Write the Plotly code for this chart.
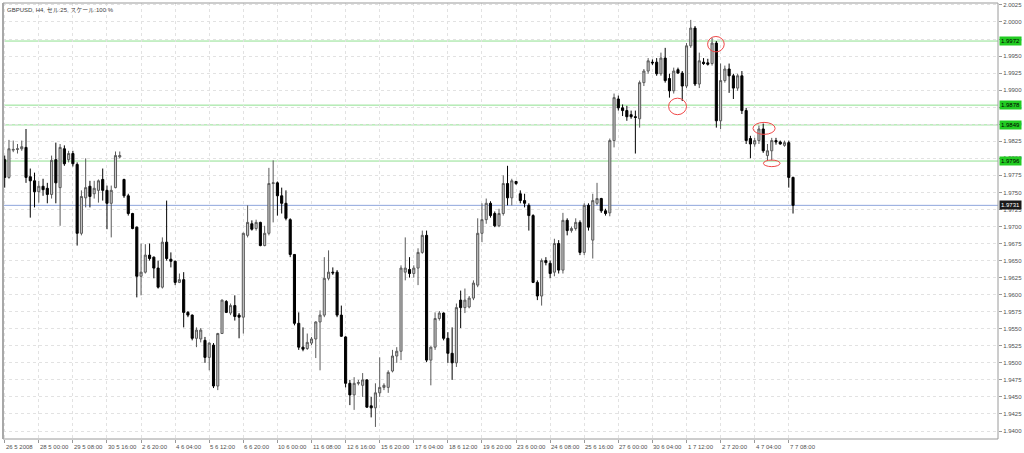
import plotly.graph_objects as go

# ---------------- data (GBPUSD H4) ----------------
opens = [
1.9798,1.9772,1.9812,1.9813,1.9814,1.9816,1.9773,1.9767,1.9751,1.9759,
1.9756,1.9747,1.9798,1.9757,1.9814,1.9798,1.9807,1.9791,1.9690,1.9742,
1.9759,1.9748,1.9753,1.9769,1.9753,1.9734,1.9757,1.9802,1.9769,1.9745,
1.9719,1.9699,1.9627,1.9633,1.9658,1.9655,1.9639,1.9611,1.9677,1.9652,
1.9649,1.9618,1.9622,1.9574,1.9570,1.9536,1.9535,1.9533,1.9508,1.9526,
1.9466,1.9543,1.9590,1.9573,1.9584,1.9570,1.9567,1.9687,1.9704,1.9697,
1.9706,1.9672,1.9690,1.9763,1.9764,1.9745,1.9734,1.9710,1.9659,1.9558,
1.9523,1.9521,1.9529,1.9535,1.9560,1.9570,1.9624,1.9633,1.9633,1.9570,
1.9538,1.9470,1.9453,1.9470,1.9467,1.9475,1.9437,1.9434,1.9456,1.9464,
1.9464,1.9488,1.9510,1.9517,1.9633,1.9637,1.9631,1.9639,1.9662,1.9687,
1.9504,1.9523,1.9565,1.9573,1.9536,1.9514,1.9500,1.9592,1.9581,1.9582,
1.9595,1.9614,1.9690,1.9710,1.9734,1.9719,1.9701,1.9719,1.9763,1.9742,
1.9766,1.9748,1.9738,1.9731,1.9716,1.9618,1.9598,1.9650,1.9646,1.9633,
1.9675,1.9636,1.9709,1.9694,1.9697,1.9706,1.9662,1.9731,1.9680,1.9734,
1.9741,1.9723,1.9720,1.9826,1.9887,1.9874,1.9870,1.9864,1.9861,1.9858,
1.9911,1.9928,1.9941,1.9941,1.9924,1.9947,1.9917,1.9899,1.9930,1.9925,
1.9906,1.9965,1.9991,1.9909,1.9941,1.9940,1.9939,1.9969,1.9855,1.9914,
1.9931,1.9921,1.9903,1.9921,1.9870,1.9829,1.9821,1.9826,1.9843,1.9804,
1.9811,1.9826,1.9824,1.9819,1.9823,1.9772]

closes = [
1.9772,1.9814,1.9813,1.9814,1.9817,1.9772,1.9767,1.9751,1.9759,1.9754,
1.9747,1.9797,1.9764,1.9816,1.9792,1.9807,1.9792,1.9690,1.9744,1.9757,
1.9744,1.9756,1.9767,1.9753,1.9734,1.9753,1.9804,1.9804,1.9745,1.9719,
1.9697,1.9627,1.9633,1.9658,1.9653,1.9639,1.9611,1.9677,1.9653,1.9649,
1.9618,1.9622,1.9574,1.9570,1.9536,1.9548,1.9548,1.9508,1.9529,1.9466,
1.9543,1.9592,1.9574,1.9584,1.9568,1.9567,1.9690,1.9706,1.9696,1.9706,
1.9672,1.9690,1.9763,1.9764,1.9745,1.9734,1.9712,1.9659,1.9558,1.9523,
1.9520,1.9530,1.9535,1.9560,1.9570,1.9624,1.9633,1.9632,1.9570,1.9539,
1.9470,1.9453,1.9470,1.9471,1.9475,1.9435,1.9434,1.9456,1.9464,1.9467,
1.9486,1.9510,1.9517,1.9639,1.9639,1.9631,1.9639,1.9662,1.9687,1.9504,
1.9523,1.9565,1.9573,1.9536,1.9514,1.9500,1.9581,1.9581,1.9592,1.9595,
1.9617,1.9690,1.9710,1.9734,1.9716,1.9701,1.9719,1.9763,1.9742,1.9767,
1.9763,1.9738,1.9734,1.9716,1.9618,1.9598,1.9650,1.9647,1.9631,1.9675,
1.9636,1.9709,1.9694,1.9697,1.9706,1.9662,1.9731,1.9699,1.9738,1.9741,
1.9723,1.9719,1.9826,1.9889,1.9874,1.9870,1.9861,1.9861,1.9860,1.9911,
1.9928,1.9943,1.9940,1.9924,1.9947,1.9914,1.9899,1.9928,1.9925,1.9906,
1.9965,1.9991,1.9909,1.9943,1.9939,1.9938,1.9969,1.9855,1.9914,1.9931,
1.9921,1.9903,1.9921,1.9870,1.9826,1.9821,1.9826,1.9843,1.9811,1.9811,
1.9826,1.9824,1.9821,1.9823,1.9772,1.9731]

highs = [
1.9804,1.9827,1.9826,1.9821,1.9826,1.9843,1.9785,1.9779,1.9767,1.9770,
1.9764,1.9804,1.9823,1.9821,1.9819,1.9811,1.9811,1.9794,1.9753,1.9800,
1.9767,1.9767,1.9769,1.9785,1.9760,1.9760,1.9810,1.9810,1.9770,1.9748,
1.9720,1.9700,1.9675,1.9674,1.9675,1.9656,1.9650,1.9684,1.9738,1.9662,
1.9650,1.9631,1.9633,1.9576,1.9571,1.9552,1.9551,1.9538,1.9530,1.9529,
1.9544,1.9593,1.9592,1.9587,1.9599,1.9573,1.9691,1.9731,1.9709,1.9710,
1.9707,1.9701,1.9786,1.9797,1.9766,1.9757,1.9753,1.9712,1.9659,1.9574,
1.9552,1.9543,1.9538,1.9561,1.9577,1.9655,1.9665,1.9640,1.9636,1.9584,
1.9539,1.9475,1.9479,1.9475,1.9485,1.9476,1.9450,1.9470,1.9508,1.9470,
1.9489,1.9519,1.9523,1.9643,1.9684,1.9655,1.9643,1.9668,1.9694,1.9694,
1.9524,1.9574,1.9576,1.9574,1.9545,1.9552,1.9587,1.9606,1.9609,1.9598,
1.9621,1.9712,1.9734,1.9741,1.9737,1.9722,1.9726,1.9775,1.9789,1.9770,
1.9767,1.9753,1.9748,1.9734,1.9718,1.9621,1.9653,1.9655,1.9650,1.9682,
1.9680,1.9720,1.9712,1.9700,1.9712,1.9709,1.9734,1.9734,1.9748,1.9764,
1.9742,1.9726,1.9829,1.9895,1.9892,1.9879,1.9877,1.9870,1.9870,1.9914,
1.9931,1.9947,1.9945,1.9947,1.9955,1.9962,1.9924,1.9933,1.9933,1.9928,
1.9969,2.0003,1.9994,1.9955,1.9947,1.9946,1.9977,1.9972,1.9939,1.9936,
1.9939,1.9924,1.9924,1.9928,1.9874,1.9833,1.9830,1.9848,1.9851,1.9821,
1.9830,1.9830,1.9826,1.9826,1.9826,1.9773]

lows = [
1.9757,1.9770,1.9809,1.9807,1.9811,1.9764,1.9713,1.9728,1.9735,1.9745,
1.9734,1.9741,1.9734,1.9701,1.9789,1.9794,1.9788,1.9672,1.9687,1.9728,
1.9728,1.9741,1.9735,1.9738,1.9696,1.9684,1.9756,1.9800,1.9742,1.9716,
1.9696,1.9596,1.9599,1.9631,1.9650,1.9624,1.9609,1.9609,1.9650,1.9640,
1.9614,1.9617,1.9552,1.9567,1.9533,1.9523,1.9530,1.9500,1.9489,1.9463,
1.9460,1.9543,1.9573,1.9570,1.9562,1.9536,1.9543,1.9684,1.9694,1.9694,
1.9671,1.9671,1.9687,1.9706,1.9716,1.9719,1.9709,1.9655,1.9555,1.9519,
1.9517,1.9519,1.9526,1.9507,1.9489,1.9567,1.9621,1.9629,1.9567,1.9538,
1.9464,1.9438,1.9431,1.9467,1.9450,1.9434,1.9420,1.9406,1.9450,1.9460,
1.9456,1.9486,1.9500,1.9504,1.9621,1.9625,1.9625,1.9614,1.9660,1.9501,
1.9467,1.9519,1.9562,1.9533,1.9500,1.9475,1.9494,1.9551,1.9573,1.9580,
1.9592,1.9611,1.9677,1.9704,1.9713,1.9699,1.9699,1.9716,1.9731,1.9731,
1.9761,1.9734,1.9728,1.9694,1.9617,1.9592,1.9584,1.9643,1.9624,1.9627,
1.9631,1.9631,1.9687,1.9691,1.9694,1.9658,1.9658,1.9694,1.9653,1.9731,
1.9720,1.9716,1.9715,1.9816,1.9870,1.9862,1.9855,1.9858,1.9807,1.9845,
1.9906,1.9924,1.9937,1.9921,1.9921,1.9911,1.9889,1.9895,1.9924,1.9884,
1.9903,1.9962,1.9906,1.9903,1.9937,1.9936,1.9936,1.9845,1.9843,1.9911,
1.9896,1.9887,1.9899,1.9865,1.9821,1.9800,1.9817,1.9821,1.9808,1.9797,
1.9797,1.9820,1.9820,1.9817,1.9757,1.9719]

# time-axis labels, one every 8 bars
time_labels = ["26 5 2008", "28 5 00:00", "29 5 08:00", "30 5 16:00", "2 6 20:00",
               "4 6 04:00", "5 6 12:00", "6 6 20:00", "10 6 00:00", "11 6 08:00",
               "12 6 16:00", "15 6 20:00", "17 6 04:00", "18 6 12:00", "19 6 20:00",
               "23 6 00:00", "24 6 08:00", "25 6 16:00", "27 6 00:00", "30 6 04:00",
               "1 7 12:00", "2 7 20:00", "4 7 04:00", "7 7 08:00"]
label_step = 8

# price-axis ticks
price_ticks = ["2.0025", "2.0000", "1.9975", "1.9950", "1.9925", "1.9900", "1.9875",
               "1.9850", "1.9825", "1.9800", "1.9775", "1.9750", "1.9725", "1.9700",
               "1.9675", "1.9650", "1.9625", "1.9600", "1.9575", "1.9550", "1.9525",
               "1.9500", "1.9475", "1.9450", "1.9425", "1.9400"]

# horizontal levels
green_levels = [1.9972, 1.9878, 1.9849, 1.9796]
current_price = 1.9731

# red marker ellipses: (bar centre, price centre, half-width in bars, half-height in price)
marks = [(157.9, 1.98761, 2.1, 0.00121),
         (166.9, 1.99674, 1.95, 0.00113),
         (178.2, 1.98439, 2.6, 0.00088),
         (180.0, 1.97926, 1.95, 0.00048)]

title_text = "GBPUSD, H4, セル:25, スケール:100 %"

# ---------------- figure ----------------
xs = list(range(len(opens)))
FONT = "Liberation Sans, Arial, Noto Sans CJK JP, sans-serif"

fig = go.Figure()
fig.add_trace(go.Candlestick(
    x=xs, open=opens, high=highs, low=lows, close=closes,
    increasing=dict(line=dict(color="#5a5a5a", width=1), fillcolor="#c8c8c8"),
    decreasing=dict(line=dict(color="#000000", width=1), fillcolor="#000000"),
    whiskerwidth=0, hoverinfo="skip", showlegend=False,
))

shapes = []
for lv in green_levels:
    shapes.append(dict(type="line", xref="paper", x0=0, x1=1, yref="y", y0=lv, y1=lv,
                       line=dict(color="#8fe08f", width=1), layer="below"))
shapes.append(dict(type="line", xref="paper", x0=0, x1=1, yref="y",
                   y0=current_price, y1=current_price,
                   line=dict(color="#8ea6dc", width=1), layer="below"))
for cx, cy, rx, ry in marks:
    shapes.append(dict(type="circle", xref="x", yref="y", x0=cx - rx, x1=cx + rx,
                       y0=cy - ry, y1=cy + ry, line=dict(color="#f04848", width=1)))
# frame
shapes.append(dict(type="rect", xref="paper", yref="paper", x0=0, x1=1, y0=0, y1=1,
                   line=dict(color="#9a9a9a", width=1)))
shapes.append(dict(type="line", xref="paper", yref="paper", x0=0, x1=0, y0=0, y1=1,
                   line=dict(color="#a8a8a8", width=2)))

annotations = []
for i, t in enumerate(time_labels):
    annotations.append(dict(x=i * label_step, xref="x", y=0, yref="paper", yshift=-3,
                            xshift=-1, text=t, showarrow=False, xanchor="left",
                            yanchor="top", font=dict(family=FONT, size=6, color="#505050")))
for lv in green_levels:
    annotations.append(dict(x=1, xref="paper", y=lv, yref="y", xanchor="left", xshift=1,
                            text=f"{lv:.4f}", showarrow=False, bgcolor="#22cc22",
                            borderpad=1, font=dict(family=FONT, size=6, color="#000000")))
annotations.append(dict(x=1, xref="paper", y=current_price, yref="y", xanchor="left",
                        xshift=1, text=f"{current_price:.4f}", showarrow=False,
                        bgcolor="#1a1a1a", borderpad=1,
                        font=dict(family=FONT, size=6, color="#ffffff")))
annotations.append(dict(x=0, xref="paper", y=1, yref="paper", xanchor="left",
                        yanchor="top", xshift=2, yshift=-2, text=title_text,
                        showarrow=False,
                        font=dict(family=FONT, size=6, color="#404040")))

fig.update_layout(
    width=1024, height=453,
    margin=dict(l=3, r=24, t=2, b=14),
    paper_bgcolor="white", plot_bgcolor="white",
    showlegend=False,
    shapes=shapes, annotations=annotations,
    xaxis=dict(range=[-0.4, 233.1], tickvals=[i * label_step for i in range(len(time_labels))],
               showticklabels=False, ticks="outside", ticklen=3, tickcolor="#999999",
               showgrid=True, gridcolor="#e2e2e2", griddash="dot", gridwidth=1,
               zeroline=False, showline=False, rangeslider=dict(visible=False),
               fixedrange=True),
    yaxis=dict(side="right", range=[1.93883, 2.00278],
               tickvals=[float(t) for t in price_ticks], ticktext=price_ticks,
               ticks="outside", ticklen=3, tickcolor="#999999",
               tickfont=dict(family=FONT, size=6, color="#505050"),
               showgrid=True, gridcolor="#e2e2e2", griddash="dot", gridwidth=1,
               zeroline=False, showline=False, fixedrange=True),
)

fig.write_html("out.html", config={"displayModeBar": False},
               post_script="document.body.style.margin='0';document.body.style.overflow='hidden';")
